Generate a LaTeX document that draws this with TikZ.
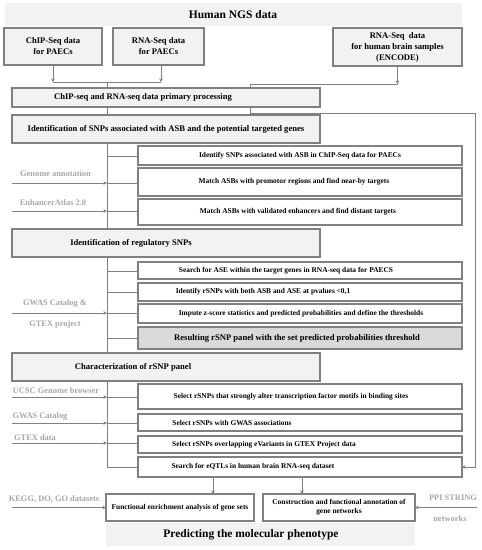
\documentclass[tikz,border=0pt]{standalone}
\usepackage{fontspec}
\setmainfont{Liberation Serif}
\usetikzlibrary{arrows.meta}
\definecolor{lc}{HTML}{808080}
\definecolor{hf}{HTML}{F2F2F2}
\definecolor{rf}{HTML}{D9D9D9}
\definecolor{gt}{HTML}{A6A6A6}
\newcommand\mkbox[8][]{%
  \pgfmathsetmacro\bcx{(#3+#5)/2}%
  \pgfmathsetmacro\bcy{(#4+#6)/2}%
  \pgfmathsetmacro\bw{#5-#3}%
  \pgfmathsetmacro\bh{#6-#4}%
  \pgfmathsetmacro\bdx{#7-\bcx}%
  \node[#1, minimum width=\bw pt, minimum height=\bh pt,
        label={[lbl, xshift=\bdx pt]center:#8}] (#2) at (\bcx,\bcy) {};%
}
\begin{document}
\begin{tikzpicture}[x=1pt,y=-1pt,
  every node/.style={inner sep=0pt, outer sep=0pt},
  lbl/.style={font=\fontsize{7.4}{9}\selectfont\bfseries, align=center, text=black},
  bigl/.style={font=\fontsize{8.6}{11}\selectfont\bfseries, align=center, text=black},
  ttl/.style={font=\fontsize{11.5}{13}\selectfont\bfseries, align=center, text=black},
  hdr/.style={draw=lc, fill=hf, line width=1.1pt},
  wbox/.style={draw=lc, fill=white, line width=1.1pt},
  nob/.style={fill=hf},
  conn/.style={draw=lc, line width=1pt},
  arr/.style={conn, -{Stealth[length=3.5pt,width=3.5pt]}},
  src/.style={font=\fontsize{8.4}{10}\selectfont\bfseries, text=gt}
]
\useasboundingbox (0,0) rectangle (482,550);

% title bands
\mkbox[nob]{top}{5}{3}{462}{26}{233}{}
\node[ttl] (toptxt) at (233,15) {Human NGS data};
\mkbox[nob]{bot}{106}{523}{415}{546}{251}{}
\node[ttl] (bottxt) at (251,535) {Predicting the molecular phenotype};

% data boxes
\mkbox[hdr, label={[bigl]center:ChIP-Seq data\\for PAECs}]{chip}{4}{28}{102}{65}{53}{}
\mkbox[hdr, label={[bigl]center:RNA-Seq data\\for PAECs}]{rnap}{113}{28}{204}{65}{158}{}
\mkbox[hdr, label={[bigl]center:RNA-Seq\ \ data\\for human brain samples\\(ENCODE)}]{brain}{333}{28}{462}{66}{398}{}

% section boxes
\mkbox[hdr, label={[bigl, xshift=-23pt]center:ChIP-seq and RNA-seq data primary processing}]{proc}{12}{88}{320}{107}{166}{}
\mkbox[hdr, label={[bigl]center:Identification of SNPs associated with ASB and the potential targeted genes}]{ident}{12}{115}{320}{143}{166}{}
\mkbox[hdr, label={[bigl, xshift=-35pt]center:Identification of regulatory SNPs}]{reg}{12}{229}{320}{257}{166}{}
\mkbox[hdr, label={[bigl, xshift=-33pt]center:Characterization of rSNP panel}]{char}{12}{353}{320}{381}{166}{}

% step boxes
\mkbox[wbox]{b1}{138}{146}{462}{165}{300}{Identify SNPs associated with ASB in ChIP-Seq data for PAECs}
\mkbox[wbox]{b2}{138}{168}{462}{196}{294}{Match ASBs with promotor regions and find near-by targets}
\mkbox[wbox]{b3}{138}{199}{462}{225}{298}{Match ASBs with validated enhancers and find distant targets}

\mkbox[wbox]{c1}{138}{262}{462}{279}{286}{Search for ASE within the target genes in RNA-seq data for PAECS}
\mkbox[wbox]{c2}{138}{283}{462}{301}{263}{Identify rSNPs with both ASB and ASE at pvalues <0{,}1}
\mkbox[wbox]{c3}{138}{304}{462}{323}{301}{Impute z-score statistics and predicted probabilities and define the thresholds}
\mkbox[draw=lc, fill=rf, line width=1.5pt, label={[bigl, xshift=-3pt]center:Resulting rSNP panel with the set predicted probabilities threshold}]{c4}{138}{327}{462}{349}{300}{}

\mkbox[wbox]{d1}{138}{384}{462}{409}{291}{Select rSNPs that strongly alter transcription factor motifs in binding sites}
\mkbox[wbox]{d2}{138}{414}{462}{431}{232}{Select rSNPs with GWAS associations}
\mkbox[wbox]{d3}{138}{436}{462}{453}{264}{Select rSNPs overlapping eVariants in GTEX Project data}
\mkbox[wbox]{d4}{138}{457}{462}{477}{253}{Search for eQTLs in human brain RNA-seq dataset}

\mkbox[wbox]{f1}{106}{494}{254}{521}{180}{Functional enrichment analysis of gene sets}
\mkbox[wbox]{f2}{263}{494}{415}{521}{339}{Construction and functional annotation of\\gene networks}

% source labels
\node[src] (s1) at (55.5,174) {Genome annotation};
\node[src] (s2) at (53,203) {EnhancerAtlas 2.0};
\node[src] (s3) at (55,304) {GWAS Catalog \&};
\node[src] (s3b) at (55,324) {GTEX project};
\node[src] (s4) at (56,391) {UCSC Genome browser};
\node[src] (s5) at (40,417) {GWAS Catalog};
\node[src] (s6) at (35,438) {GTEX data};
\node[src] (s7) at (54,499) {KEGG, DO, GO datasets};
\node[src] (s8) at (453,498) {PPI STRING};
\node[src] (s8b) at (450,519) {networks};

% coordinates
\coordinate (spx) at (107,0);
\coordinate (j1) at (107,82);
\coordinate (j2) at (250,84);
\coordinate (e1) at (12,0);
\coordinate (e2) at (477,0);
\coordinate (rr) at (475,113);

% top connectors
\draw[arr] (chip.south) -- (chip.south |- j1);
\draw[arr] (rnap.south -| 161,0) -- (161,82);
\draw[conn] (chip.south |- j1) -- (161,82);
\draw[conn] (j1) -- (proc.north -| j1);
\draw[arr] (brain.south) -- (brain.south |- j2);
\draw[conn] (j2) -- (brain.south |- j2);
\draw[conn] (j2) -- (proc.north -| j2);
\draw[conn] (proc.south -| spx) -- (ident.north -| spx);

% right bypass
\draw[arr] (proc.south -| j2) -- (j2 |- rr) -- (rr) -- (rr |- d4.east) -- (d4.east);

% spine 1
\draw[conn] (ident.south -| spx) -- (reg.north -| spx);
\draw[conn] (107,156) -- (b1.west |- 0,156);
\draw[conn] (107,183) -- (b2.west |- 0,183);
\draw[conn] (107,211) -- (b3.west |- 0,211);
\draw[arr] (e1 |- 0,183) -- (107,183);
\draw[arr] (e1 |- 0,211) -- (107,211);

% spine 2
\draw[conn] (reg.south -| spx) -- (char.north -| spx);
\draw[conn] (107,271) -- (c1.west |- 0,271);
\draw[conn] (107,292) -- (c2.west |- 0,292);
\draw[conn] (107,313) -- (c3.west |- 0,313);
\draw[conn] (107,338) -- (c4.west |- 0,338);
\draw[arr] (e1 |- 0,313) -- (107,313);

% spine 3
\draw[conn] (char.south -| spx) -- (107,467) -- (d4.west);
\draw[conn] (107,397) -- (d1.west |- 0,397);
\draw[conn] (107,423) -- (d2.west |- 0,423);
\draw[conn] (107,443) -- (d3.west |- 0,443);
\draw[arr] (e1 |- 0,397) -- (107,397);
\draw[arr] (e1 |- 0,423) -- (107,423);
\draw[arr] (e1 |- 0,443) -- (107,443);

% bottom
\draw[arr] (d4.south -| 213,0) -- (f1.north -| 213,0);
\draw[arr] (d4.south -| 302,0) -- (f2.north -| 302,0);
\draw[arr] (e1 |- f1.west) -- (f1.west);
\draw[arr] (e2 |- f2.east) -- (f2.east);
\end{tikzpicture}
\end{document}
